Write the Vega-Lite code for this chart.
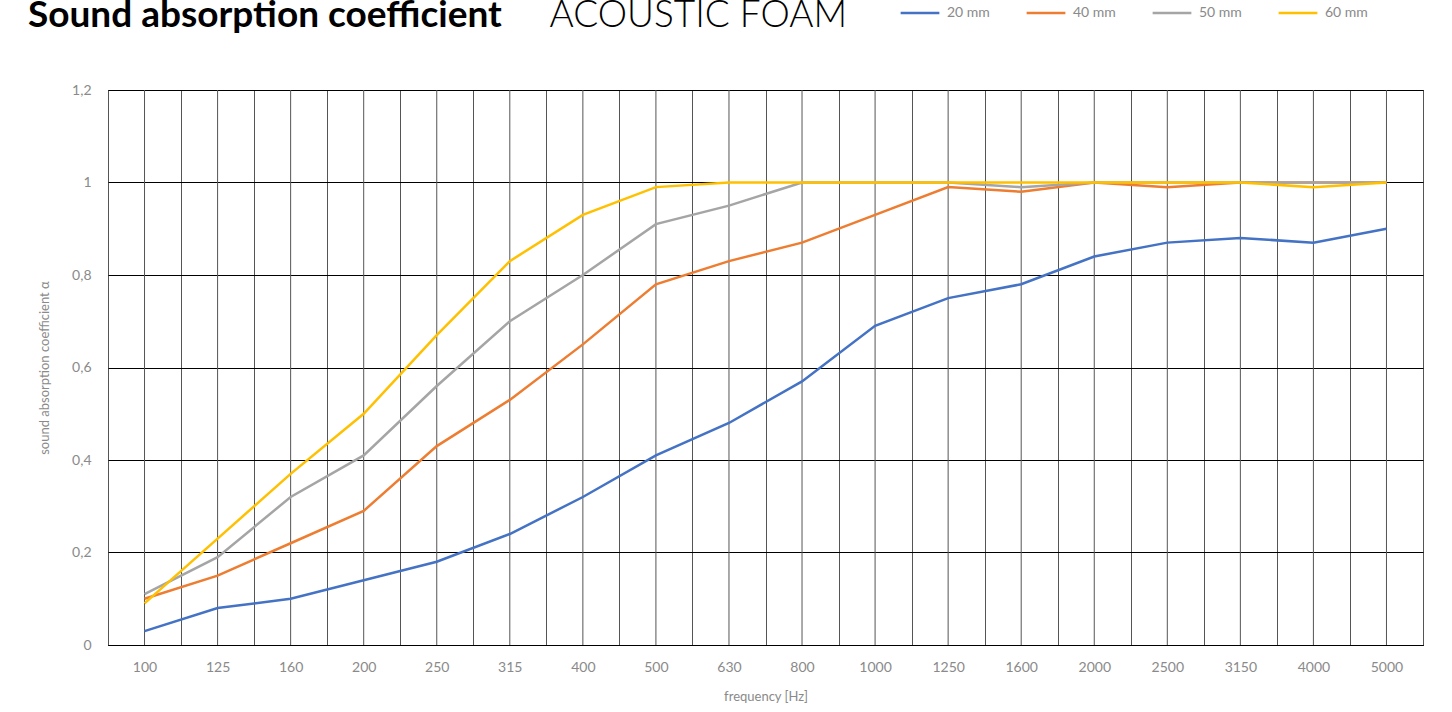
{
  "$schema": "https://vega.github.io/schema/vega-lite/v6.json",
  "width": 1315,
  "height": 555,
  "autosize": {"type": "none"},
  "padding": {"left": 108, "top": 90, "right": 29, "bottom": 67},
  "background": "white",
  "config": {
    "font": "Lato",
    "view": {"stroke": "#000", "strokeWidth": 1}
  },
  "title": {
    "text": "Sound absorption coefficient",
    "anchor": "start",
    "frame": "group",
    "dx": -80,
    "dy": 72,
    "fontSize": 37,
    "fontWeight": "bold",
    "color": "#000",
    "baseline": "alphabetic",
    "offset": 0
  },
  "data": {
    "values": [
      {"freq": "100", "series": "20 mm", "alpha": 0.03},
      {"freq": "125", "series": "20 mm", "alpha": 0.08},
      {"freq": "160", "series": "20 mm", "alpha": 0.10},
      {"freq": "200", "series": "20 mm", "alpha": 0.14},
      {"freq": "250", "series": "20 mm", "alpha": 0.18},
      {"freq": "315", "series": "20 mm", "alpha": 0.24},
      {"freq": "400", "series": "20 mm", "alpha": 0.32},
      {"freq": "500", "series": "20 mm", "alpha": 0.41},
      {"freq": "630", "series": "20 mm", "alpha": 0.48},
      {"freq": "800", "series": "20 mm", "alpha": 0.57},
      {"freq": "1000", "series": "20 mm", "alpha": 0.69},
      {"freq": "1250", "series": "20 mm", "alpha": 0.75},
      {"freq": "1600", "series": "20 mm", "alpha": 0.78},
      {"freq": "2000", "series": "20 mm", "alpha": 0.84},
      {"freq": "2500", "series": "20 mm", "alpha": 0.87},
      {"freq": "3150", "series": "20 mm", "alpha": 0.88},
      {"freq": "4000", "series": "20 mm", "alpha": 0.87},
      {"freq": "5000", "series": "20 mm", "alpha": 0.90},
      {"freq": "100", "series": "40 mm", "alpha": 0.10},
      {"freq": "125", "series": "40 mm", "alpha": 0.15},
      {"freq": "160", "series": "40 mm", "alpha": 0.22},
      {"freq": "200", "series": "40 mm", "alpha": 0.29},
      {"freq": "250", "series": "40 mm", "alpha": 0.43},
      {"freq": "315", "series": "40 mm", "alpha": 0.53},
      {"freq": "400", "series": "40 mm", "alpha": 0.65},
      {"freq": "500", "series": "40 mm", "alpha": 0.78},
      {"freq": "630", "series": "40 mm", "alpha": 0.83},
      {"freq": "800", "series": "40 mm", "alpha": 0.87},
      {"freq": "1000", "series": "40 mm", "alpha": 0.93},
      {"freq": "1250", "series": "40 mm", "alpha": 0.99},
      {"freq": "1600", "series": "40 mm", "alpha": 0.98},
      {"freq": "2000", "series": "40 mm", "alpha": 1.00},
      {"freq": "2500", "series": "40 mm", "alpha": 0.99},
      {"freq": "3150", "series": "40 mm", "alpha": 1.00},
      {"freq": "4000", "series": "40 mm", "alpha": 1.00},
      {"freq": "5000", "series": "40 mm", "alpha": 1.00},
      {"freq": "100", "series": "50 mm", "alpha": 0.11},
      {"freq": "125", "series": "50 mm", "alpha": 0.19},
      {"freq": "160", "series": "50 mm", "alpha": 0.32},
      {"freq": "200", "series": "50 mm", "alpha": 0.41},
      {"freq": "250", "series": "50 mm", "alpha": 0.56},
      {"freq": "315", "series": "50 mm", "alpha": 0.70},
      {"freq": "400", "series": "50 mm", "alpha": 0.80},
      {"freq": "500", "series": "50 mm", "alpha": 0.91},
      {"freq": "630", "series": "50 mm", "alpha": 0.95},
      {"freq": "800", "series": "50 mm", "alpha": 1.00},
      {"freq": "1000", "series": "50 mm", "alpha": 1.00},
      {"freq": "1250", "series": "50 mm", "alpha": 1.00},
      {"freq": "1600", "series": "50 mm", "alpha": 0.99},
      {"freq": "2000", "series": "50 mm", "alpha": 1.00},
      {"freq": "2500", "series": "50 mm", "alpha": 1.00},
      {"freq": "3150", "series": "50 mm", "alpha": 1.00},
      {"freq": "4000", "series": "50 mm", "alpha": 1.00},
      {"freq": "5000", "series": "50 mm", "alpha": 1.00},
      {"freq": "100", "series": "60 mm", "alpha": 0.09},
      {"freq": "125", "series": "60 mm", "alpha": 0.23},
      {"freq": "160", "series": "60 mm", "alpha": 0.37},
      {"freq": "200", "series": "60 mm", "alpha": 0.50},
      {"freq": "250", "series": "60 mm", "alpha": 0.67},
      {"freq": "315", "series": "60 mm", "alpha": 0.83},
      {"freq": "400", "series": "60 mm", "alpha": 0.93},
      {"freq": "500", "series": "60 mm", "alpha": 0.99},
      {"freq": "630", "series": "60 mm", "alpha": 1.00},
      {"freq": "800", "series": "60 mm", "alpha": 1.00},
      {"freq": "1000", "series": "60 mm", "alpha": 1.00},
      {"freq": "1250", "series": "60 mm", "alpha": 1.00},
      {"freq": "1600", "series": "60 mm", "alpha": 1.00},
      {"freq": "2000", "series": "60 mm", "alpha": 1.00},
      {"freq": "2500", "series": "60 mm", "alpha": 1.00},
      {"freq": "3150", "series": "60 mm", "alpha": 1.00},
      {"freq": "4000", "series": "60 mm", "alpha": 0.99},
      {"freq": "5000", "series": "60 mm", "alpha": 1.00}
    ]
  },
  "layer": [
    {
      "transform": [{"filter": "datum.series == '20 mm'"}],
      "mark": {"type": "rule", "color": "#555", "strokeWidth": 1},
      "encoding": {
        "x": {
          "field": "freq",
          "type": "nominal",
          "sort": null,
          "axis": {
            "orient": "top",
            "labels": false,
            "ticks": false,
            "domain": false,
            "grid": false,
            "title": "ACOUSTIC FOAM",
            "titleX": 441,
            "titleY": -64,
            "titleAlign": "left",
            "titleAnchor": "start",
            "titleBaseline": "alphabetic",
            "titleFontSize": 37,
            "titleFontWeight": 300,
            "titleColor": "#000"
          }
        }
      }
    },
    {
      "mark": {"type": "line", "strokeWidth": 2.5},
      "encoding": {
        "x": {
          "field": "freq",
          "type": "nominal",
          "sort": null,
          "axis": {
            "orient": "bottom",
            "tickBand": "extent",
            "grid": true,
            "gridColor": "#555",
            "gridWidth": 1,
            "gridOpacity": 1,
            "ticks": false,
            "domain": true,
            "domainColor": "#000",
            "labelAngle": 0,
            "labelFontSize": 14,
            "labelColor": "#8a8a8a",
            "labelPadding": 15,
            "title": "frequency [Hz]",
            "titleFontSize": 13,
            "titleFontWeight": "normal",
            "titleColor": "#8a8a8a",
            "titlePadding": 16
          }
        },
        "y": {
          "field": "alpha",
          "type": "quantitative",
          "scale": {"domain": [0, 1.2], "nice": false},
          "axis": {
            "values": [0, 0.2, 0.4, 0.6, 0.8, 1, 1.2],
            "labelExpr": "replace(format(datum.value, '.1~f'), '.', ',')",
            "grid": true,
            "gridColor": "#000",
            "gridOpacity": 1,
            "gridWidth": 1,
            "ticks": false,
            "domain": false,
            "labelFontSize": 14,
            "labelColor": "#8a8a8a",
            "labelPadding": 17,
            "title": "sound absorption coefficient α",
            "titleFontSize": 13,
            "titleFontWeight": "normal",
            "titleColor": "#8a8a8a",
            "titlePadding": 20
          }
        },
        "color": {
          "field": "series",
          "type": "nominal",
          "scale": {
            "domain": ["20 mm", "40 mm", "50 mm", "60 mm"],
            "range": ["#4472C4", "#ED7D31", "#A5A5A5", "#FFC000"]
          },
          "legend": {
            "orient": "none",
            "legendX": 791,
            "legendY": -98,
            "direction": "horizontal",
            "title": null,
            "symbolType": "stroke",
            "symbolSize": 1500,
            "symbolStrokeWidth": 2.5,
            "labelFontSize": 14,
            "labelColor": "#8a8a8a",
            "labelOffset": 6,
            "columnPadding": 31,
            "gridAlign": "all"
          }
        }
      }
    }
  ],
  "resolve": {"axis": {"x": "independent"}}
}
